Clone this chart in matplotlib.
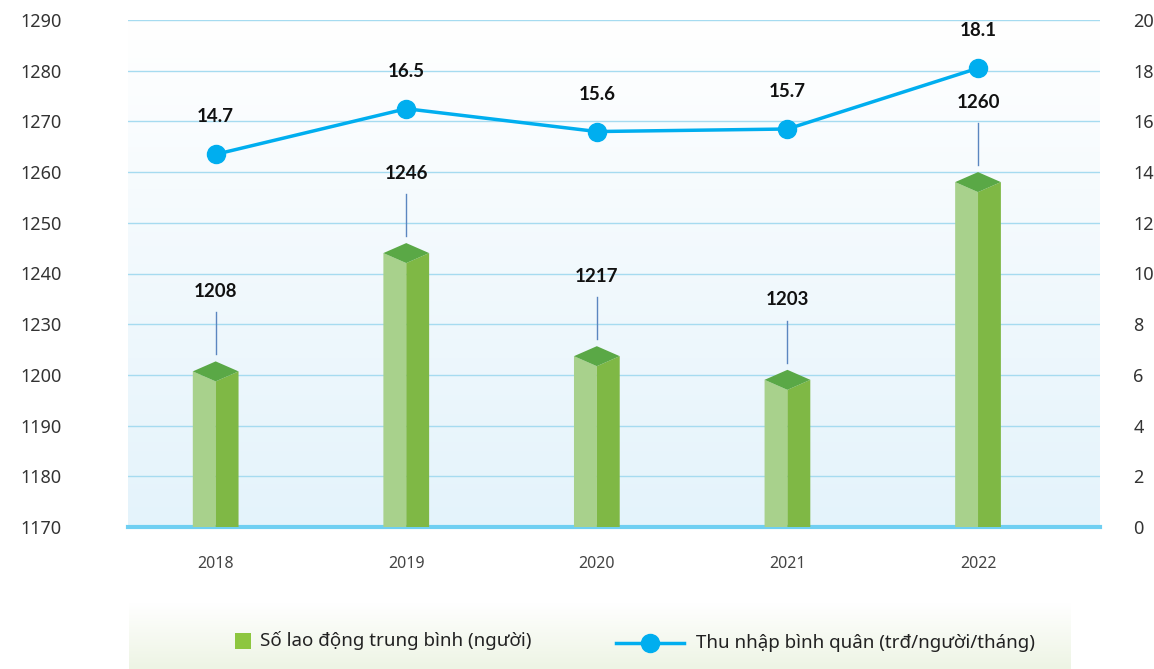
import numpy as np
import matplotlib.pyplot as plt
from matplotlib.patches import Polygon, Rectangle
from matplotlib.lines import Line2D
from matplotlib.colors import LinearSegmentedColormap

years = ['2018', '2019', '2020', '2021', '2022']
workers = [1208, 1246, 1217, 1203, 1260]          # Số lao động trung bình (người)
income = [14.7, 16.5, 15.6, 15.7, 18.1]           # Thu nhập bình quân (trđ/người/tháng)
left_ticks = [1170, 1180, 1190, 1200, 1230, 1240, 1250, 1260, 1270, 1280, 1290]
right_ticks = list(range(0, 21, 2))

plt.rcParams['font.family'] = ['Noto Sans', 'DejaVu Sans']
BOLD = ['Lato', 'DejaVu Sans']

W, H = 1154, 669
fig = plt.figure(figsize=(W / 100, H / 100), dpi=100)
rect = [128 / W, 1 - 527 / H, (1100 - 128) / W, (527 - 20) / H]

# gradient background behind the plot
bg = fig.add_axes(rect, zorder=0)
grad = np.linspace(0, 1, 256).reshape(-1, 1)
bg.imshow(grad, aspect='auto', extent=[0, 1, 0, 1], origin='upper',
          cmap=LinearSegmentedColormap.from_list('bg', ['#ffffff', '#e4f3fb']))
bg.axis('off')

# left axis: the tick labels are evenly spaced, so the scale is piecewise linear
ax = fig.add_axes(rect, zorder=1)
ax.patch.set_visible(False)
pos = np.arange(len(left_ticks))
ax.set_yscale('function', functions=(lambda v: np.interp(v, left_ticks, pos),
                                     lambda p: np.interp(p, pos, left_ticks)))
ax.set_ylim(1170, 1290)
ax.set_xlim(-0.46, 4.64)
ax.set_yticks(left_ticks)
ax.set_yticklabels([str(t) for t in left_ticks])
ax.set_xticks(range(len(years)))
ax.set_xticklabels(years)
ax.grid(axis='y', color='#a6dbf0', lw=1)
ax.set_axisbelow(True)
for s in ax.spines.values():
    s.set_visible(False)
ax.tick_params(axis='both', length=0)
ax.tick_params(axis='y', pad=48, labelsize=13, labelcolor='#333333')
ax.tick_params(axis='x', pad=21, labelsize=11.5, labelcolor='#444444')
ax.axhline(1170, color='#6fcff2', lw=3, zorder=1.5, clip_on=False)


def axpt(x, v, dy=0):
    # data point -> axes fraction, shifted by dy pixels
    px, py = ax.transData.transform((x, v))
    return ax.transAxes.inverted().transform((px, py + dy))


hw = 0.12
for i, v in enumerate(workers):
    T = axpt(i, v)
    L = axpt(i - hw, v, -10)
    C = axpt(i, v, -20)
    R = axpt(i + hw, v, -10)
    BL, BC, BR = axpt(i - hw, 1170), axpt(i, 1170), axpt(i + hw, 1170)
    for pts, col in [([BL, L, C, BC], '#a8d18c'),
                     ([BC, C, R, BR], '#7fb845'),
                     ([L, T, R, C], '#5aa846')]:
        ax.add_patch(Polygon(pts, closed=True, transform=ax.transAxes,
                             facecolor=col, edgecolor='none', zorder=2))
    a, b = axpt(i, v, 7), axpt(i, v, 49)
    ax.add_line(Line2D([a[0], b[0]], [a[1], b[1]], transform=ax.transAxes,
                       color='#5b86c0', lw=1, zorder=2))
    t = axpt(i, v, 70)
    ax.text(t[0], t[1], str(v), transform=ax.transAxes, ha='center', va='center',
            family=BOLD, fontsize=13.5, fontweight='bold', color='#111111', zorder=3)

# right axis: income line
ax2 = ax.twinx()
ax2.set_zorder(3)
ax2.patch.set_visible(False)
ax2.set_ylim(0, 20)
ax2.set_yticks(right_ticks)
for s in ax2.spines.values():
    s.set_visible(False)
ax2.tick_params(axis='y', length=0, pad=24, labelsize=13, labelcolor='#333333')
ax2.plot(range(len(years)), income, color='#00aeef', lw=2.5, marker='o', ms=13)
for i, v in enumerate(income):
    ax2.annotate(f'{v:.1f}', (i, v), xytext=(0, 27), textcoords='offset points',
                 ha='center', va='center', family=BOLD, fontsize=13.5,
                 fontweight='bold', color='#111111')

# legend box at the bottom
lg = fig.add_axes([129 / W, 0, (1071 - 129) / W, 66 / H], zorder=0)
lg.imshow(grad, aspect='auto', extent=[129, 1071, 669, 603], origin='upper',
          cmap=LinearSegmentedColormap.from_list('lg', ['#ffffff', '#edf4e4']))
lg.set_xlim(129, 1071)
lg.set_ylim(669, 603)
lg.axis('off')
lg.add_patch(Rectangle((235, 633), 16, 16, facecolor='#8dc63f', edgecolor='none'))
lg.text(260, 641, 'Số lao động trung bình (người)', va='center', fontsize=13.5, color='#222222')
lg.add_line(Line2D([616, 684], [643, 643], color='#00aeef', lw=2.5))
lg.plot([650], [643], marker='o', ms=13, color='#00aeef')
lg.text(696, 643, 'Thu nhập bình quân (trđ/người/tháng)', va='center', fontsize=13.5, color='#222222')

fig.savefig('out.png', dpi=100)
